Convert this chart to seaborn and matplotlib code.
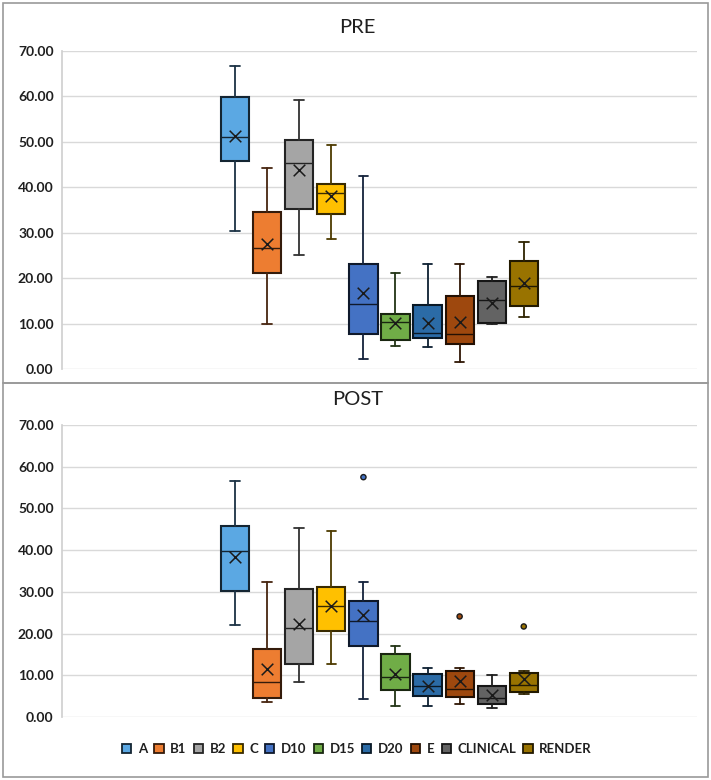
import matplotlib.pyplot as plt
import numpy as np
import pandas as pd
import seaborn as sns
from matplotlib.patches import Patch, Rectangle
from matplotlib.ticker import FormatStrFormatter

GROUPS = ["A", "B1", "B2", "C", "D10", "D15", "D20", "E", "CLINICAL", "RENDER"]
COLORS = ["#5BA8E3", "#ED7D31", "#A5A5A5", "#FFC000", "#4472C4",
          "#70AD47", "#2B6BA6", "#9E480E", "#636363", "#997300"]

# PRE values
pre_low = [30.4, 10.0, 25.1, 28.7, 2.2, 5.0, 4.8, 1.6, 10.0, 11.4]
pre_q1 = [45.7, 21.1, 35.3, 34.0, 7.8, 6.3, 6.9, 5.4, 10.1, 13.9]
pre_median = [51.0, 26.6, 45.4, 38.7, 14.2, 10.3, 7.9, 7.6, 15.2, 18.3]
pre_q3 = [59.9, 34.5, 50.4, 40.6, 23.0, 12.2, 14.1, 16.1, 19.3, 23.8]
pre_high = [66.7, 44.3, 59.3, 49.3, 42.5, 21.1, 23.0, 23.0, 20.2, 27.9]
pre_mean = [51.3, 27.6, 43.7, 38.0, 16.7, 10.2, 10.2, 10.3, 14.5, 18.9]
pre_outlier_group = []
pre_outlier_value = []

# POST values
post_low = [22.0, 3.7, 8.5, 12.7, 4.2, 2.6, 2.6, 3.2, 2.1, 5.6]
post_q1 = [30.2, 4.5, 12.6, 20.6, 17.0, 6.5, 5.0, 4.7, 3.2, 6.1]
post_median = [39.8, 8.3, 21.4, 26.7, 23.1, 9.6, 7.4, 6.6, 4.6, 7.7]
post_q3 = [45.8, 16.2, 30.6, 31.2, 27.7, 15.1, 10.3, 11.0, 7.4, 10.5]
post_high = [56.6, 32.4, 45.3, 44.6, 32.4, 16.9, 11.8, 11.8, 10.0, 11.0]
post_mean = [38.4, 11.6, 22.2, 26.6, 24.5, 10.2, 7.5, 8.7, 5.3, 9.0]
post_outlier_group = ["D10", "E", "RENDER"]
post_outlier_value = [57.5, 24.1, 21.7]

sns.set_theme(style="white")
plt.rcParams["font.family"] = ["Lato", "DejaVu Sans"]


# Excel draws the outlines in a dark shade of the series colour
def darken(color, factor=0.22):
    rgb = np.array(plt.matplotlib.colors.to_rgb(color))
    return tuple(rgb * factor)


def draw_panel(ax, low, q1, median, q3, high, mean, outlier_group, outlier_value):
    positions = np.arange(len(GROUPS))
    stats = []
    for i, group in enumerate(GROUPS):
        stats.append({"label": group, "whislo": low[i], "q1": q1[i], "med": median[i],
                      "q3": q3[i], "whishi": high[i], "fliers": []})

    parts = ax.bxp(stats, positions=positions, widths=0.88, capwidths=0.3,
                   patch_artist=True, showfliers=False,
                   boxprops={"linewidth": 1.5},
                   medianprops={"linewidth": 1.0},
                   whiskerprops={"linewidth": 1.3},
                   capprops={"linewidth": 1.3})

    for i, color in enumerate(COLORS):
        edge = darken(color)
        parts["boxes"][i].set_facecolor(color)
        parts["boxes"][i].set_edgecolor(edge)
        parts["medians"][i].set_color(edge)
        for line in parts["whiskers"][2 * i:2 * i + 2] + parts["caps"][2 * i:2 * i + 2]:
            line.set_color(darken(color, 0.3))

    means = pd.DataFrame({"x": positions, "mean": mean})
    sns.scatterplot(data=means, x="x", y="mean", marker="x", color="#1a1a1a",
                    s=70, linewidth=1.1, ax=ax, zorder=5)

    if outlier_group:
        outliers = pd.DataFrame({"x": [GROUPS.index(g) for g in outlier_group],
                                 "value": outlier_value, "group": outlier_group})
        sns.scatterplot(data=outliers, x="x", y="value", hue="group",
                        palette=dict(zip(GROUPS, COLORS)), s=14, edgecolor="#1a1a1a",
                        linewidth=1.0, legend=False, ax=ax, zorder=5)

    ax.set_xlim(-5.4, 14.4)
    ax.set_ylim(0, 70)
    ax.set_yticks(np.arange(0, 71, 10))
    ax.yaxis.set_major_formatter(FormatStrFormatter("%.2f"))
    ax.set_xticks([])
    ax.set_xlabel("")
    ax.set_ylabel("")
    ax.grid(axis="y", color="#D9D9D9", linewidth=1.0)
    ax.set_axisbelow(True)
    for side in ["top", "right", "bottom"]:
        ax.spines[side].set_visible(False)
    ax.spines["left"].set_color("#D0D0D0")
    ax.tick_params(axis="y", length=0, pad=6, labelsize=10, labelcolor="#1f1f1f")
    for label in ax.get_yticklabels():
        label.set_fontweight("bold")


fig = plt.figure(figsize=(7.11, 7.8), dpi=100)

ax_pre = fig.add_axes([0.0872, 0.527, 0.893, 0.4077])
draw_panel(ax_pre, pre_low, pre_q1, pre_median, pre_q3, pre_high, pre_mean,
           pre_outlier_group, pre_outlier_value)

ax_post = fig.add_axes([0.0872, 0.0808, 0.893, 0.3743])
draw_panel(ax_post, post_low, post_q1, post_median, post_q3, post_high, post_mean,
           post_outlier_group, post_outlier_value)

fig.text(0.503, 0.965, "PRE", ha="center", va="center", fontsize=14.5, color="#1f1f1f")
fig.text(0.503, 0.488, "POST", ha="center", va="center", fontsize=14.5, color="#1f1f1f")

# Borders of the two chart areas
fig.add_artist(Rectangle((0.004, 0.509), 0.992, 0.487, transform=fig.transFigure,
                         fill=False, edgecolor="#9A9A9A", linewidth=1.2))
fig.add_artist(Rectangle((0.004, 0.004), 0.992, 0.505, transform=fig.transFigure,
                         fill=False, edgecolor="#9A9A9A", linewidth=1.2))

handles = [Patch(facecolor=c, edgecolor=darken(c), linewidth=1.3, label=g)
           for g, c in zip(GROUPS, COLORS)]
fig.legend(handles=handles, loc="center", bbox_to_anchor=(0.502, 0.0397), ncol=10,
           frameon=False, handlelength=0.7, handleheight=0.75, handletextpad=0.5,
           columnspacing=0.55, prop={"size": 9.5, "weight": "bold"}, labelcolor="#1f1f1f")

fig.savefig("out.png", dpi=100)
